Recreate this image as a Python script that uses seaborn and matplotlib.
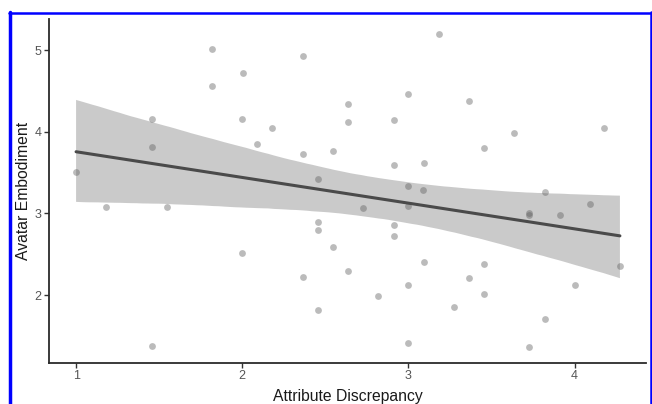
import numpy as np
import pandas as pd
import matplotlib
matplotlib.use("Agg")
import matplotlib.pyplot as plt
import seaborn as sns
from matplotlib.lines import Line2D

# Data
attribute_discrepancy = [
    1.815, 2.366, 2.002, 1.815, 1.456, 2.000, 2.180, 2.090, 1.456, 2.366,
    1.000, 2.454, 1.180, 1.546,
    3.183, 3.000, 2.639, 3.365, 2.639, 2.911, 4.180, 3.637, 2.546, 3.454,
    2.911, 3.092, 3.000, 3.090, 3.820, 4.090, 2.727, 3.000, 3.727, 3.727,
    3.911,
    2.911, 2.911, 2.546, 3.092, 3.454, 2.639, 3.365, 3.000, 4.000, 4.273,
    2.819, 3.454, 3.273, 3.820, 3.000, 3.727,
    2.454, 2.454, 2.000, 2.366, 2.454, 1.456,
]
avatar_embodiment = [
    5.01, 4.93, 4.72, 4.56, 4.16, 4.16, 4.05, 3.85, 3.81, 3.73,
    3.51, 3.42, 3.08, 3.08,
    5.20, 4.46, 4.34, 4.38, 4.12, 4.15, 4.04, 3.98, 3.76, 3.80,
    3.59, 3.62, 3.34, 3.29, 3.26, 3.12, 3.07, 3.09, 3.00, 2.98,
    2.98,
    2.86, 2.73, 2.59, 2.41, 2.38, 2.29, 2.21, 2.13, 2.13, 2.36,
    1.99, 2.02, 1.85, 1.71, 1.42, 1.36,
    2.89, 2.80, 2.52, 2.22, 1.82, 1.38,
]
x_ticks = [1, 2, 3, 4]
y_ticks = [2, 3, 4, 5]

df = pd.DataFrame({"Attribute Discrepancy": attribute_discrepancy,
                   "Avatar Embodiment": avatar_embodiment})

sns.set_theme(style="white")
plt.rcParams["font.family"] = ["Liberation Sans", "DejaVu Sans"]

W, H = 652, 404
fig = plt.figure(figsize=(W / 100, H / 100), dpi=100)
ax = fig.add_axes([49 / W, (H - 363) / H, (646 - 49) / W, (363 - 19) / H])

sns.regplot(data=df, x="Attribute Discrepancy", y="Avatar Embodiment", ax=ax,
            ci=95, n_boot=10000, seed=3, truncate=True,
            scatter_kws=dict(color="#5e5e5e", alpha=0.42, s=24, linewidths=0, zorder=3),
            line_kws=dict(color="#4a4a4a", lw=2.2, zorder=4))

# restyle confidence band
for coll in ax.collections:
    if coll.__class__.__name__ in ("PolyCollection", "FillBetweenPolyCollection"):
        coll.set_facecolor("#bdbdbd")
        coll.set_alpha(0.8)
        coll.set_edgecolor("none")
        coll.set_zorder(2)

ax.set_xlim(0.837, 4.43)
ax.set_ylim(1.17, 5.38)
ax.set_xticks(x_ticks)
ax.set_yticks(y_ticks)
ax.set_xticklabels([str(t) for t in x_ticks])
ax.set_yticklabels([str(t) for t in y_ticks])

for side in ("top", "right"):
    ax.spines[side].set_visible(False)
for side in ("left", "bottom"):
    ax.spines[side].set_color("#2b2b2b")
    ax.spines[side].set_linewidth(1.3)

ax.tick_params(axis="both", which="both", direction="out", length=3.3, width=1,
               color="#333333", labelcolor="#555555", labelsize=9, pad=2,
               bottom=True, left=True)
ax.set_xlabel("Attribute Discrepancy", fontsize=11.3, color="#1a1a1a", labelpad=5)
ax.set_ylabel("Avatar Embodiment", fontsize=11.3, color="#1a1a1a", labelpad=2.5)
ax.grid(False)

# blue frame around the picture
frame_kw = dict(color="#0000ff", transform=fig.transFigure, clip_on=False)
fig.add_artist(Line2D([9 / W, 650 / W], [(H - 12.5) / H] * 2, lw=1.8, **frame_kw))
fig.add_artist(Line2D([9.5 / W] * 2, [0, (H - 12) / H], lw=2.5, **frame_kw))
fig.add_artist(Line2D([650.5 / W] * 2, [0, (H - 12) / H], lw=1.8, **frame_kw))

fig.savefig("out.png", dpi=100)
